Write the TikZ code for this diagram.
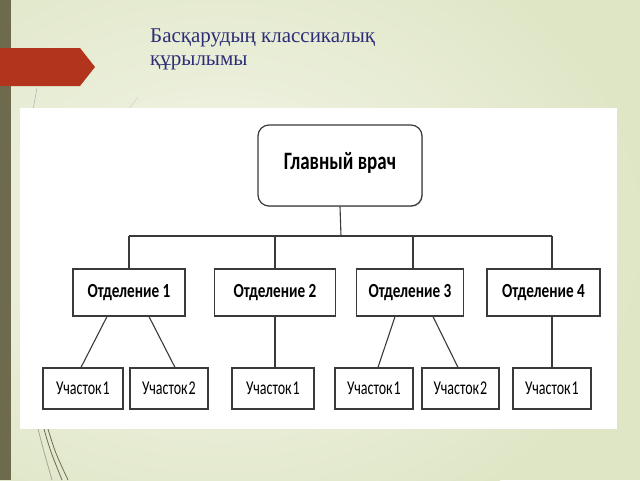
\documentclass[tikz,border=0pt]{standalone}
\usepackage{fontspec}
\setmainfont{Liberation Serif}
\newfontfamily\calibn[FakeStretch=0.76]{Carlito}
\newfontfamily\calibu[FakeStretch=0.72]{Carlito}
\usetikzlibrary{shadows}
\definecolor{bgbase}{HTML}{DFE6C6}
\definecolor{bglight}{HTML}{F4F6EA}
\definecolor{olivebar}{HTML}{6E6A4E}
\definecolor{arrowred}{HTML}{B3341C}
\definecolor{titleblue}{HTML}{2E2E78}
\definecolor{boxline}{HTML}{3A3A3A}
\tikzset{
  box/.style={draw=boxline, line width=1.2pt, fill=white, inner sep=0pt,
    drop shadow={shadow xshift=0.9pt, shadow yshift=-0.9pt, fill=gray!55, opacity=0.8}},
  topbox/.style={box, rounded corners=11pt, minimum width=164pt, minimum height=81pt,
    font=\calibn\bfseries\fontsize{25}{27}\selectfont},
  deptbox/.style={box, minimum height=47pt, font=\calibn\bfseries\fontsize{20}{22}\selectfont},
  uchbox/.style={box, minimum height=41pt, font=\calibu\fontsize{19.5}{22}\selectfont},
  link/.style={draw=boxline, line width=1.1pt},
  deco/.style={draw=olivebar, line width=0.8pt}
}
\begin{document}
\begin{tikzpicture}[x=1pt, y=-1pt]
\useasboundingbox (0,0) rectangle (640,480);
% background
\fill[bgbase] (0,0) rectangle (640,480);
\shade[inner color=bglight, outer color=bgbase] (220,230) ellipse (430 and 330);
% left bar
\fill[olivebar] (0,0) rectangle (11,480);
% decorative thin lines
\draw[deco, draw=gray!60, line width=0.5pt] (37,88) -- (33,110);
\draw[deco, draw=gray!35, line width=0.5pt] (138,97) -- (128,110);
\draw[deco] (44,429) .. controls (50,450) .. (62,480);
\draw[deco] (48,429) .. controls (55,452) .. (68,480);
\draw[deco, draw=olivebar!60] (38,429) .. controls (44,452) .. (52,480);
% red arrow
\fill[arrowred] (0,48) -- (80,48) -- (95,67) -- (80,86) -- (0,86) -- cycle;
% title
\node[anchor=base west, text=titleblue, font=\fontsize{21}{24}\selectfont, inner sep=0pt]
  (title1) at (150,42) {Басқарудың классикалық};
\node[anchor=base west, text=titleblue, font=\fontsize{21}{24}\selectfont, inner sep=0pt]
  (title2) at (150,65) {құрылымы};
% white panel
\fill[white] (20,108) rectangle (617,429);
% nodes
\node[topbox] (top) at (340,165.5) {\raisebox{9pt}{Главный врач}};
\node[deptbox, minimum width=112pt] (d1) at (129,292.5) {Отделение 1};
\node[deptbox, minimum width=121pt] (d2) at (275,292.5) {Отделение 2};
\node[deptbox, minimum width=107pt] (d3) at (410,292.5) {Отделение 3};
\node[deptbox, minimum width=113pt] (d4) at (543.5,292.5) {Отделение 4};
\node[uchbox, minimum width=80pt] (u11) at (83,388.5) {Участок\hspace{1pt}1};
\node[uchbox, minimum width=78pt] (u12) at (169,388.5) {Участок\hspace{1pt}2};
\node[uchbox, minimum width=82pt] (u21) at (273,388.5) {Участок\hspace{1pt}1};
\node[uchbox, minimum width=78pt] (u31) at (374,388.5) {Участок\hspace{1pt}1};
\node[uchbox, minimum width=77pt] (u32) at (460.5,388.5) {Участок\hspace{1pt}2};
\node[uchbox, minimum width=78pt] (u41) at (552,388.5) {Участок\hspace{1pt}1};
\coordinate (bar) at (341,236);
% connectors
\draw[link] (top.south) -- (bar);
\draw[link] (d1.north |- bar) -- (u41.north |- bar);
\draw[link] (d1.north |- bar) -- (d1.north);
\draw[link] (d2.north |- bar) -- (d2.north);
\draw[link] ([xshift=3pt]d3.north |- bar) -- ([xshift=3pt]d3.north);
\draw[link] (u41.north |- bar) -- (u41.north |- d4.north);
\draw[link] ([xshift=-22pt]d1.south) -- ([xshift=-2pt]u11.north);
\draw[link] ([xshift=20pt]d1.south) -- ([xshift=6pt]u12.north);
\draw[link] (d2.south) -- (d2.south |- u21.north);
\draw[link] ([xshift=-15pt]d3.south) -- ([xshift=4pt]u31.north);
\draw[link] ([xshift=23pt]d3.south) -- ([xshift=-2.5pt]u32.north);
\draw[link] (u41.north |- d4.south) -- (u41.north);
\end{tikzpicture}
\end{document}
